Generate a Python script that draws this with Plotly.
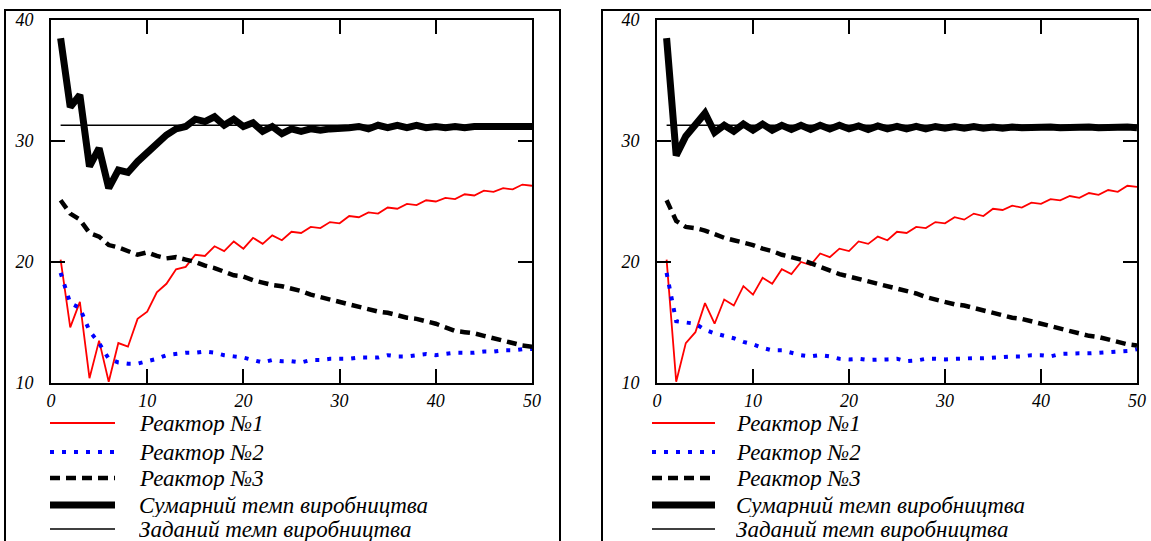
import plotly.graph_objects as go

W, H = 1151, 541
steps = list(range(1, 51))

# ---------- left panel ----------
L_r1 = [20.2, 14.6, 16.7, 10.4, 13.5, 10.1, 13.3, 13.0, 15.3, 15.9,
        17.5, 18.2, 19.4, 19.6, 20.6, 20.5, 21.3, 20.9, 21.7, 21.1,
        22.0, 21.5, 22.2, 21.8, 22.5, 22.4, 22.9, 22.8, 23.3, 23.2,
        23.8, 23.7, 24.1, 24.0, 24.5, 24.4, 24.8, 24.7, 25.1, 25.0,
        25.3, 25.2, 25.6, 25.5, 25.9, 25.8, 26.1, 26.0, 26.4, 26.3]
L_r2 = [19.1, 16.6, 16.2, 14.3, 13.3, 12.0, 11.7, 11.6, 11.6, 11.8,
        12.0, 12.3, 12.4, 12.5, 12.5, 12.6, 12.5, 12.3, 12.2, 12.1,
        11.9, 11.7, 11.9, 11.8, 11.8, 11.7, 11.9, 11.9, 12.0, 12.0,
        12.0, 12.1, 12.1, 12.1, 12.3, 12.2, 12.2, 12.3, 12.4, 12.3,
        12.4, 12.5, 12.5, 12.5, 12.6, 12.6, 12.7, 12.7, 12.8, 12.8]
L_r3 = [25.1, 24.0, 23.5, 22.4, 22.1, 21.4, 21.2, 20.9, 20.6, 20.8,
        20.5, 20.3, 20.4, 20.2, 20.0, 19.7, 19.5, 19.2, 18.9, 18.8,
        18.5, 18.3, 18.1, 18.0, 17.8, 17.6, 17.3, 17.1, 16.9, 16.7,
        16.5, 16.3, 16.1, 15.9, 15.8, 15.6, 15.4, 15.3, 15.1, 14.9,
        14.6, 14.3, 14.2, 14.1, 13.9, 13.7, 13.5, 13.3, 13.1, 13.0]
L_sum = [38.5, 32.8, 33.8, 27.9, 29.4, 26.1, 27.6, 27.4, 28.3, 29.1,
         29.7, 30.5, 31.0, 31.2, 31.8, 31.6, 32.0, 31.3, 31.8, 31.2,
         31.5, 30.8, 31.2, 30.6, 31.0, 30.8, 31.0, 30.9, 31.0, 31.0,
         31.1, 31.2, 31.0, 31.3, 31.1, 31.3, 31.1, 31.3, 31.1, 31.2,
         31.1, 31.2, 31.1, 31.2, 31.15, 31.2, 31.2, 31.2, 31.3, 31.2]

# ---------- right panel ----------
R_r1 = [20.2, 10.1, 13.3, 14.2, 16.6, 14.9, 16.9, 16.4, 18.0, 17.3,
        18.7, 18.2, 19.4, 19.0, 20.0, 19.75, 20.7, 20.4, 21.1, 20.9,
        21.7, 21.5, 22.1, 21.8, 22.5, 22.4, 22.9, 22.8, 23.3, 23.2,
        23.7, 23.5, 24.0, 23.8, 24.4, 24.3, 24.65, 24.5, 24.9, 24.8,
        25.2, 25.1, 25.45, 25.3, 25.7, 25.55, 25.95, 25.8, 26.3, 26.2]
R_r2 = [19.1, 15.1, 15.0, 14.9, 14.4, 14.1, 13.9, 13.7, 13.4, 13.2,
        12.9, 12.7, 12.7, 12.5, 12.3, 12.2, 12.3, 12.2, 12.0, 11.95,
        12.0, 11.9, 11.9, 11.95, 12.0, 11.8, 11.85, 12.0, 12.0, 11.95,
        12.0, 12.05, 12.05, 12.05, 12.1, 12.2, 12.2, 12.2, 12.3, 12.3,
        12.2, 12.4, 12.45, 12.45, 12.45, 12.5, 12.55, 12.6, 12.65, 12.8]
R_r3 = [25.1, 23.4, 22.9, 22.8, 22.6, 22.3, 22.0, 21.8, 21.6, 21.4,
        21.1, 20.9, 20.6, 20.4, 20.2, 19.9, 19.6, 19.3, 19.0, 18.8,
        18.6, 18.4, 18.2, 18.0, 17.8, 17.6, 17.4, 17.1, 16.9, 16.7,
        16.5, 16.4, 16.2, 16.0, 15.8, 15.6, 15.4, 15.3, 15.1, 14.9,
        14.7, 14.5, 14.3, 14.1, 13.9, 13.8, 13.6, 13.4, 13.2, 13.1]
R_sum = [38.5, 28.8, 30.4, 31.4, 32.3, 30.7, 31.3, 30.8, 31.4, 30.9,
         31.4, 30.9, 31.3, 30.95, 31.3, 30.95, 31.3, 31.0, 31.3, 31.0,
         31.25, 30.95, 31.25, 31.0, 31.2, 31.0, 31.2, 31.0, 31.2, 31.05,
         31.2, 31.05, 31.2, 31.05, 31.15, 31.05, 31.15, 31.1, 31.15, 31.1,
         31.15, 31.1, 31.15, 31.1, 31.15, 31.1, 31.15, 31.1, 31.15, 31.1]

target_rate = 31.3
target = [target_rate] * len(steps)

legend_labels = ["Реактор №1", "Реактор №2", "Реактор №3",
                 "Сумарний темп виробництва", "Заданий темп виробництва"]
x_ticks = [0, 10, 20, 30, 40, 50]
y_ticks = [10, 20, 30, 40]

# series styles: colour, width, dash
styles = [
    ("#ff0000", 1.8, "solid"),
    ("#0000ff", 4, "4px,8px"),
    ("#000000", 4.5, "10px,6px"),
    ("#000000", 7, "solid"),
    ("#000000", 1.5, "solid"),
]

SERIF = "Liberation Serif, Times New Roman, Times, serif"

fig = go.Figure()

panels = [
    ("x", "y", [L_r1, L_r2, L_r3, L_sum]),
    ("x2", "y2", [R_r1, R_r2, R_r3, R_sum]),
]
for xa, ya, series in panels:
    for i in [0, 1, 2]:
        c, w, d = styles[i]
        fig.add_trace(go.Scatter(x=steps, y=series[i], mode="lines", xaxis=xa, yaxis=ya,
                                 line=dict(color=c, width=w, dash=d), showlegend=False,
                                 hoverinfo="skip"))
    c, w, d = styles[4]
    fig.add_trace(go.Scatter(x=steps, y=target, mode="lines", xaxis=xa, yaxis=ya,
                             line=dict(color=c, width=w, dash=d), showlegend=False,
                             hoverinfo="skip"))
    c, w, d = styles[3]
    fig.add_trace(go.Scatter(x=steps, y=series[3], mode="lines", xaxis=xa, yaxis=ya,
                             line=dict(color=c, width=w, dash=d), showlegend=False,
                             hoverinfo="skip"))

tick_font = dict(family=SERIF, size=18, color="black", style="italic")
axis_common = dict(showline=True, linecolor="black", linewidth=2, mirror="allticks",
                   ticks="inside", ticklen=14, tickwidth=2, tickcolor="black",
                   showgrid=False, zeroline=False, tickfont=tick_font, automargin=False)

y_dom = [1 - 383 / H, 1 - 20 / H]
fig.update_layout(
    width=W, height=H,
    autosize=False,
    margin=dict(l=0, r=0, t=0, b=0, pad=0, autoexpand=False),
    paper_bgcolor="white", plot_bgcolor="white",
    showlegend=False,
    font=dict(family=SERIF),
    xaxis=dict(domain=[51 / W, 532 / W], range=[0, 50], tickvals=x_ticks, anchor="y", **axis_common),
    yaxis=dict(domain=y_dom, range=[10, 40], tickvals=y_ticks, anchor="x", ticklabelstandoff=12, **axis_common),
    xaxis2=dict(domain=[657 / W, 1137 / W], range=[0, 50], tickvals=x_ticks, anchor="y2", **axis_common),
    yaxis2=dict(domain=y_dom, range=[10, 40], tickvals=y_ticks, anchor="x2", ticklabelstandoff=12, **axis_common),
)

shapes = []
annotations = []
# outer frames (open at the bottom)
for fx0, fx1 in [(5, 560), (602, 1160)]:
    shapes.append(dict(type="rect", xref="paper", yref="paper",
                       x0=fx0 / W, x1=fx1 / W, y0=-0.2, y1=1 - 10 / H,
                       line=dict(color="black", width=2), fillcolor="rgba(0,0,0,0)", layer="below"))

# legend keys
legend_rows = [423, 452, 478, 505, 529]
leg_font = dict(family=SERIF, size=23, color="black", style="italic")
for lx0, lx1, tx in [(50, 115, 137), (652, 715, 734)]:
    for k, label in enumerate(legend_labels):
        c, w, d = styles[k]
        yy = 1 - legend_rows[k] / H
        shapes.append(dict(type="line", xref="paper", yref="paper",
                           x0=lx0 / W, x1=lx1 / W, y0=yy, y1=yy,
                           line=dict(color=c, width=w, dash=d)))
        annotations.append(dict(xref="paper", yref="paper", x=tx / W, y=yy,
                                xanchor="left", yanchor="middle", text=label,
                                showarrow=False, font=leg_font, height=23))

fig.update_layout(shapes=shapes, annotations=annotations)
fig.write_html("out.html", config={"displayModeBar": False, "staticPlot": True},
               post_script="document.body.style.margin='0px';document.body.style.overflow='hidden';")
